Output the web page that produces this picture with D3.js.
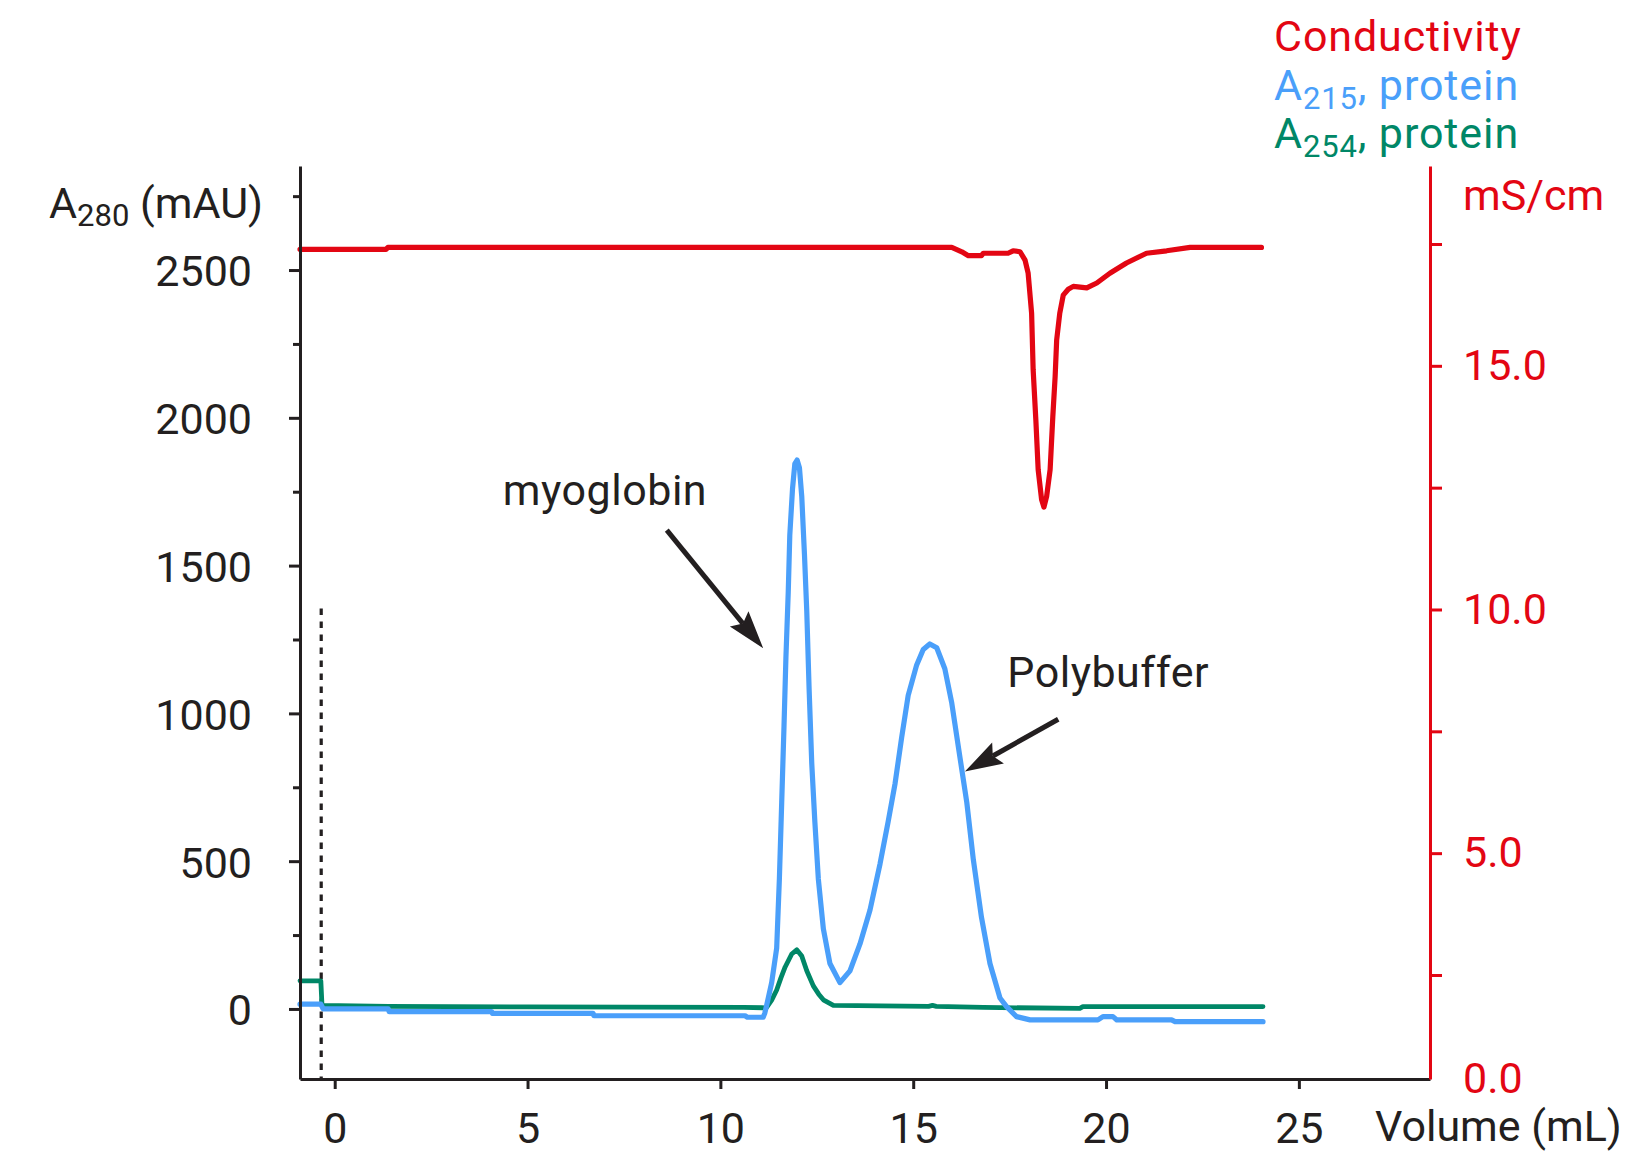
<!DOCTYPE html>
<html><head><meta charset="utf-8">
<script src="https://cdn.jsdelivr.net/npm/d3@7"></script>
<style>body{margin:0;background:#fff} svg{display:block} text{font-family:Roboto,"Noto Sans",sans-serif}</style>
</head><body><svg id="c" width="1650" height="1152"></svg>
<script>
// ---------- data ----------
const volumeTicks = [0, 5, 10, 15, 20, 25];
const a280Ticks = [0, 500, 1000, 1500, 2000, 2500];
const a280MinorTicks = [250, 750, 1250, 1750, 2250, 2750];
const condTicks = [0, 2.5, 5, 7.5, 10, 12.5, 15, 17.5];
const condTickLabels = ["0.0", "", "5.0", "", "10.0", "", "15.0", ""];

// Conductivity (mS/cm) vs volume (mL)
const condVolume = [-0.9,1.33,1.38,16.0,16.26,16.43,16.77,16.82,17.46,17.59,17.77,17.90,17.98,18.07,18.11,18.18,18.24,18.33,18.39,18.46,18.55,18.62,18.68,18.72,18.80,18.89,19.02,19.15,19.50,19.76,20.10,20.53,21.05,21.57,22.18,24.03];
const condValue  = [17.39,17.39,17.43,17.43,17.34,17.26,17.26,17.31,17.31,17.36,17.34,17.17,16.90,16.08,14.92,13.89,12.87,12.25,12.10,12.32,12.87,13.96,14.78,15.53,16.08,16.45,16.57,16.63,16.60,16.70,16.90,17.11,17.31,17.36,17.43,17.43];

// A215 protein (mAU)
const a215Volume = [-0.9,-0.36,-0.3,1.39,1.41,4.07,4.09,6.70,6.72,10.64,10.70,11.11,11.15,11.20,11.33,11.46,11.53,11.59,11.65,11.70,11.76,11.80,11.87,11.93,11.99,12.05,12.11,12.18,12.24,12.30,12.37,12.45,12.54,12.67,12.84,13.10,13.36,13.62,13.88,14.14,14.35,14.53,14.70,14.87,15.09,15.26,15.43,15.61,15.82,16.00,16.21,16.39,16.56,16.77,16.99,17.25,17.42,17.68,18.03,19.79,19.92,20.18,20.28,21.70,21.79,24.07];
const a215Value  = [16,16,0,0,-9,-9,-15,-15,-23,-23,-28,-28,-15,12,89,206,440,698,957,1191,1411,1603,1759,1844,1857,1831,1734,1539,1346,1086,829,633,440,271,154,89,129,220,335,491,633,763,918,1061,1164,1216,1235,1222,1151,1035,853,698,504,310,154,37,8,-26,-37,-37,-26,-26,-37,-37,-43,-43];

// A254 protein (mAU)
const a254Volume = [-0.9,-0.36,-0.33,1.4,5,10.6,11.1,11.2,11.33,11.46,11.57,11.68,11.85,11.98,12.11,12.24,12.41,12.55,12.67,12.93,15.4,15.5,15.6,16.82,19.32,19.40,24.07];
const a254Value  = [95,95,12,9,7,5,4,5,30,64,105,142,186,200,179,129,78,50,31,12,9,12,9,5,2,8,8];

// injection marker and annotations
const injectionVolume = -0.35, injectionTop = 1355;
const annotations = [
  {label:"myoglobin", textV:4.36, textA:1705, tailV:8.61, tailA:1620, tipV:11.11, tipA:1220},
  {label:"Polybuffer", textV:17.44, textA:1090, tailV:18.76, tailA:980, tipV:16.34, tipA:803}
];

// ---------- layout ----------
const C = {red:"#e30613", blue:"#4a9ffa", green:"#008767", ink:"#231f20"};
const FS = 43, SUB = 31;
const L = 300, R = 1430, T = 166, B = 1079;
const svg = d3.select("#c");

const x = d3.scaleLinear().domain([-0.9, 28.4]).range([L, R]);
const yL = d3.scaleLinear().domain([-237, 2852]).range([B, T]);
const yR = d3.scaleLinear().domain([0, 2.5, 19.1]).range([B, 975, T]);

// ---------- series ----------
const mk = (xs, ys) => xs.map((v, i) => [v, ys[i]]);
const lineL = d3.line().x(d => x(d[0])).y(d => yL(d[1]));
const lineR = d3.line().x(d => x(d[0])).y(d => yR(d[1]));

// injection dotted line
svg.append("line")
  .attr("x1", x(injectionVolume)).attr("x2", x(injectionVolume))
  .attr("y1", yL(injectionTop)).attr("y2", B)
  .attr("stroke", C.ink).attr("stroke-width", 3.2).attr("stroke-dasharray", "6.5 6.5");

svg.append("path").datum(mk(a254Volume, a254Value)).attr("d", lineL)
  .attr("fill", "none").attr("stroke", C.green).attr("stroke-width", 4.8)
  .attr("stroke-linejoin", "round").attr("stroke-linecap", "round");
svg.append("path").datum(mk(a215Volume, a215Value)).attr("d", lineL)
  .attr("fill", "none").attr("stroke", C.blue).attr("stroke-width", 5.2)
  .attr("stroke-linejoin", "round").attr("stroke-linecap", "round");
svg.append("path").datum(mk(condVolume, condValue)).attr("d", lineR)
  .attr("fill", "none").attr("stroke", C.red).attr("stroke-width", 5.2)
  .attr("stroke-linejoin", "round").attr("stroke-linecap", "round");

// ---------- axes ----------
function styleAxis(g, color) {
  g.select(".domain").attr("stroke", color).attr("stroke-width", 3);
  g.selectAll(".tick line").attr("stroke", color).attr("stroke-width", 3);
  g.selectAll(".tick text").attr("fill", color).attr("font-size", FS)
    .attr("font-family", "Roboto, 'Noto Sans', sans-serif");
}

// left minor ticks
const gLm = svg.append("g").attr("transform", `translate(${L},0)`)
  .call(d3.axisLeft(yL).tickValues(a280MinorTicks).tickSize(7).tickFormat(""));
styleAxis(gLm, C.ink);
gLm.select(".domain").remove();

const gL = svg.append("g").attr("transform", `translate(${L},0)`)
  .call(d3.axisLeft(yL).tickValues(a280Ticks).tickSize(11).tickSizeOuter(0).tickPadding(37).tickFormat(d3.format("d")));
styleAxis(gL, C.ink);
gL.selectAll(".tick text").attr("dy", "0.37em");

const gX = svg.append("g").attr("transform", `translate(0,${B})`)
  .call(d3.axisBottom(x).tickValues(volumeTicks).tickSize(10).tickSizeOuter(0).tickPadding(23).tickFormat(d3.format("d")));
styleAxis(gX, C.ink);

const gR = svg.append("g").attr("transform", `translate(${R},0)`)
  .call(d3.axisRight(yR).tickValues(condTicks).tickSize(12).tickSizeOuter(0).tickPadding(21)
    .tickFormat((d, i) => condTickLabels[i]));
styleAxis(gR, C.red);
gR.selectAll(".tick").filter(d => d === 0).select("line").remove();

// ---------- titles ----------
const t1 = svg.append("text").attr("x", 49).attr("y", 218).attr("font-size", FS).attr("fill", C.ink);
t1.append("tspan").text("A");
t1.append("tspan").attr("font-size", SUB).attr("dy", 8).text("280");
t1.append("tspan").attr("dy", -8).text(" (mAU)");

svg.append("text").attr("x", 1375).attr("y", 1141).attr("font-size", FS).attr("fill", C.ink).text("Volume (mL)");
svg.append("text").attr("x", 1463).attr("y", 210).attr("font-size", FS).attr("fill", C.red).text("mS/cm");

// legend
const legend = [
  {main:"Conductivity", sub:null, rest:"", color:C.red, y:51},
  {main:"A", sub:"215", rest:", protein", color:C.blue, y:100},
  {main:"A", sub:"254", rest:", protein", color:C.green, y:148}
];
legend.forEach(d => {
  const t = svg.append("text").attr("x", 1274).attr("y", d.y).attr("font-size", FS)
    .attr("letter-spacing", 0.9).attr("fill", d.color);
  t.append("tspan").text(d.main);
  if (d.sub) {
    t.append("tspan").attr("font-size", SUB).attr("dy", 9).text(d.sub);
    t.append("tspan").attr("dy", -9).text(d.rest);
  }
});

// annotations
annotations.forEach(a => {
  svg.append("text").attr("x", x(a.textV)).attr("y", yL(a.textA)).attr("font-size", FS)
    .attr("letter-spacing", 0.5).attr("fill", C.ink).text(a.label);
  const x1 = x(a.tailV), y1 = yL(a.tailA), x2 = x(a.tipV), y2 = yL(a.tipA);
  const dx = x2 - x1, dy = y2 - y1, len = Math.hypot(dx, dy), ux = dx / len, uy = dy / len, px = -uy, py = ux;
  const hl = 38, hw = 12, notch = 6;
  svg.append("line").attr("x1", x1).attr("y1", y1)
    .attr("x2", x2 - ux * (hl - notch)).attr("y2", y2 - uy * (hl - notch))
    .attr("stroke", C.ink).attr("stroke-width", 5);
  const bx = x2 - ux * hl, by = y2 - uy * hl;
  svg.append("path").attr("d", `M${x2},${y2}L${bx + px * hw},${by + py * hw}L${x2 - ux * (hl - notch)},${y2 - uy * (hl - notch)}L${bx - px * hw},${by - py * hw}Z`)
    .attr("fill", C.ink);
});
</script></body></html>
